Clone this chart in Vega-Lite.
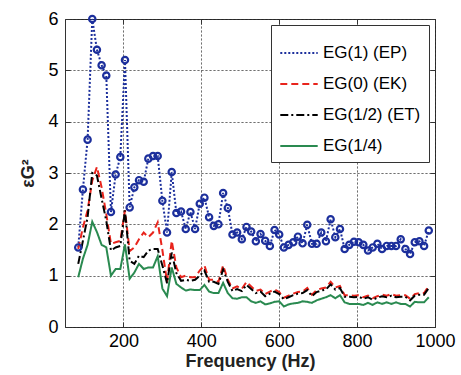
{
  "$schema": "https://vega.github.io/schema/vega-lite/v6.json",
  "autosize": {"type": "none"},
  "width": 370,
  "height": 308,
  "padding": {"left": 65, "top": 19, "right": 26, "bottom": 48},
  "background": "white",
  "config": {
    "view": {"stroke": "#333333", "strokeWidth": 1},
    "font": "Liberation Sans",
    "axis": {
      "labelFont": "Liberation Sans",
      "labelFontSize": 18,
      "labelColor": "#000000",
      "labelFlush": false,
      "titleFont": "Liberation Sans",
      "titleFontSize": 18,
      "titleFontWeight": "bold",
      "titleColor": "#222222",
      "domain": false,
      "tickColor": "#333333",
      "tickSize": -5,
      "gridDash": [1, 3],
      "gridColor": "#222222",
      "gridOpacity": 0.8
    }
  },
  "data": {
    "values": [
      {"f": 84, "p": 1.55, "k": 1.52, "t": 1.23, "q": 0.97},
      {"f": 96, "p": 2.68, "k": 1.94, "t": 1.68, "q": 1.33},
      {"f": 108, "p": 3.65, "k": 2.27, "t": 2.14, "q": 1.6},
      {"f": 120, "p": 6.0, "k": 2.85, "t": 3.0, "q": 2.05},
      {"f": 132, "p": 5.4, "k": 3.12, "t": 2.95, "q": 1.85},
      {"f": 144, "p": 5.1, "k": 2.72, "t": 2.5, "q": 1.6},
      {"f": 156, "p": 4.9, "k": 2.2, "t": 2.07, "q": 1.55},
      {"f": 168, "p": 2.24, "k": 1.62, "t": 1.49, "q": 1.0},
      {"f": 180, "p": 2.97, "k": 1.65, "t": 1.55, "q": 1.13},
      {"f": 192, "p": 3.31, "k": 1.68, "t": 1.58, "q": 1.13},
      {"f": 204, "p": 5.2, "k": 2.27, "t": 2.27, "q": 1.61},
      {"f": 216, "p": 2.33, "k": 1.48, "t": 1.29, "q": 0.94},
      {"f": 228, "p": 2.72, "k": 1.55, "t": 1.23, "q": 1.06},
      {"f": 240, "p": 2.86, "k": 1.71, "t": 1.39, "q": 1.23},
      {"f": 252, "p": 2.83, "k": 1.84, "t": 1.36, "q": 1.13},
      {"f": 264, "p": 3.28, "k": 1.75, "t": 1.49, "q": 1.16},
      {"f": 276, "p": 3.33, "k": 1.84, "t": 1.52, "q": 1.16},
      {"f": 288, "p": 3.33, "k": 2.04, "t": 1.52, "q": 1.38},
      {"f": 300, "p": 2.46, "k": 1.5, "t": 1.2, "q": 0.75},
      {"f": 312, "p": 1.84, "k": 0.88, "t": 0.85, "q": 0.6},
      {"f": 324, "p": 3.02, "k": 1.68, "t": 1.45, "q": 1.16},
      {"f": 336, "p": 2.22, "k": 1.16, "t": 1.05, "q": 0.84},
      {"f": 348, "p": 2.25, "k": 0.97, "t": 0.9, "q": 0.77},
      {"f": 360, "p": 1.91, "k": 1.0, "t": 0.92, "q": 0.71},
      {"f": 372, "p": 2.24, "k": 0.97, "t": 0.9, "q": 0.73},
      {"f": 384, "p": 1.91, "k": 0.97, "t": 0.92, "q": 0.72},
      {"f": 396, "p": 2.4, "k": 1.1, "t": 1.0, "q": 0.72},
      {"f": 408, "p": 2.52, "k": 1.2, "t": 1.1, "q": 0.82},
      {"f": 420, "p": 2.14, "k": 0.92, "t": 0.88, "q": 0.69},
      {"f": 432, "p": 1.97, "k": 0.92, "t": 0.88, "q": 0.66},
      {"f": 444, "p": 2.0, "k": 0.88, "t": 0.84, "q": 0.66},
      {"f": 456, "p": 2.61, "k": 1.2, "t": 1.12, "q": 0.86},
      {"f": 468, "p": 2.32, "k": 0.92, "t": 0.88, "q": 0.66},
      {"f": 480, "p": 1.8, "k": 0.75, "t": 0.7, "q": 0.56},
      {"f": 492, "p": 1.84, "k": 0.79, "t": 0.74, "q": 0.55},
      {"f": 504, "p": 1.71, "k": 0.74, "t": 0.7, "q": 0.58},
      {"f": 516, "p": 1.95, "k": 0.88, "t": 0.82, "q": 0.58},
      {"f": 528, "p": 1.86, "k": 0.79, "t": 0.74, "q": 0.5},
      {"f": 540, "p": 1.67, "k": 0.7, "t": 0.66, "q": 0.47},
      {"f": 552, "p": 1.81, "k": 0.73, "t": 0.69, "q": 0.5},
      {"f": 564, "p": 1.68, "k": 0.64, "t": 0.6, "q": 0.44},
      {"f": 576, "p": 1.58, "k": 0.69, "t": 0.65, "q": 0.46},
      {"f": 588, "p": 1.89, "k": 0.73, "t": 0.69, "q": 0.49},
      {"f": 600, "p": 1.8, "k": 0.68, "t": 0.64, "q": 0.5},
      {"f": 612, "p": 1.55, "k": 0.57, "t": 0.54, "q": 0.4},
      {"f": 624, "p": 1.6, "k": 0.61, "t": 0.58, "q": 0.44},
      {"f": 636, "p": 1.65, "k": 0.65, "t": 0.62, "q": 0.46},
      {"f": 648, "p": 1.76, "k": 0.68, "t": 0.65, "q": 0.47},
      {"f": 660, "p": 1.63, "k": 0.69, "t": 0.66, "q": 0.5},
      {"f": 672, "p": 1.99, "k": 0.76, "t": 0.72, "q": 0.49},
      {"f": 684, "p": 1.62, "k": 0.63, "t": 0.6, "q": 0.47},
      {"f": 696, "p": 1.62, "k": 0.72, "t": 0.68, "q": 0.52},
      {"f": 708, "p": 1.84, "k": 0.75, "t": 0.71, "q": 0.55},
      {"f": 720, "p": 1.67, "k": 0.77, "t": 0.73, "q": 0.58},
      {"f": 732, "p": 2.1, "k": 0.88, "t": 0.83, "q": 0.62},
      {"f": 744, "p": 1.75, "k": 0.77, "t": 0.73, "q": 0.56},
      {"f": 756, "p": 1.91, "k": 0.8, "t": 0.76, "q": 0.62},
      {"f": 768, "p": 1.52, "k": 0.62, "t": 0.59, "q": 0.48},
      {"f": 780, "p": 1.6, "k": 0.62, "t": 0.59, "q": 0.45},
      {"f": 792, "p": 1.66, "k": 0.61, "t": 0.58, "q": 0.45},
      {"f": 804, "p": 1.65, "k": 0.62, "t": 0.59, "q": 0.45},
      {"f": 816, "p": 1.6, "k": 0.58, "t": 0.55, "q": 0.43},
      {"f": 828, "p": 1.49, "k": 0.61, "t": 0.58, "q": 0.47},
      {"f": 840, "p": 1.55, "k": 0.56, "t": 0.53, "q": 0.43},
      {"f": 852, "p": 1.62, "k": 0.6, "t": 0.57, "q": 0.48},
      {"f": 864, "p": 1.52, "k": 0.63, "t": 0.6, "q": 0.45},
      {"f": 876, "p": 1.58, "k": 0.61, "t": 0.58, "q": 0.48},
      {"f": 888, "p": 1.58, "k": 0.64, "t": 0.61, "q": 0.45},
      {"f": 900, "p": 1.58, "k": 0.61, "t": 0.58, "q": 0.48},
      {"f": 912, "p": 1.71, "k": 0.62, "t": 0.59, "q": 0.45},
      {"f": 924, "p": 1.52, "k": 0.62, "t": 0.59, "q": 0.45},
      {"f": 936, "p": 1.42, "k": 0.55, "t": 0.52, "q": 0.4},
      {"f": 948, "p": 1.65, "k": 0.64, "t": 0.61, "q": 0.49},
      {"f": 960, "p": 1.67, "k": 0.66, "t": 0.63, "q": 0.48},
      {"f": 972, "p": 1.58, "k": 0.66, "t": 0.63, "q": 0.48},
      {"f": 984, "p": 1.88, "k": 0.8, "t": 0.76, "q": 0.58}
    ]
  },
  "resolve": {"axis": {"x": "independent", "y": "independent"}},
  "layer": [
    {
      "transform": [{"fold": ["p", "k", "t", "q"], "as": ["key", "v"]}],
      "mark": {"type": "line", "strokeWidth": 2},
      "encoding": {
        "x": {
          "field": "f",
          "type": "quantitative",
          "scale": {"domain": [50, 1000], "nice": false, "zero": false},
          "axis": {"values": [200, 400, 600, 800, 1000], "format": "d", "title": "Frequency (Hz)", "labelPadding": 10, "titlePadding": 2}
        },
        "y": {
          "field": "v",
          "type": "quantitative",
          "scale": {"domain": [0, 6], "nice": false},
          "axis": {"values": [0, 1, 2, 3, 4, 5, 6], "title": "εG²", "labelPadding": 12, "titlePadding": 10}
        },
        "color": {
          "field": "key",
          "type": "nominal",
          "scale": {"domain": ["p", "k", "t", "q"], "range": ["#1c2f9c", "#e8241c", "#000000", "#2a8a50"]},
          "legend": {
            "title": null,
            "orient": "top-right",
            "offset": 6,
            "labelExpr": "datum.label == 'p' ? 'EG(1) (EP)' : datum.label == 'k' ? 'EG(0) (EK)' : datum.label == 't' ? 'EG(1/2) (ET)' : 'EG(1/4)'",
            "labelFont": "Liberation Sans",
            "labelFontSize": 17,
            "labelColor": "#000000",
            "labelOffset": 4,
            "symbolType": "stroke",
            "symbolSize": 1400,
            "symbolStrokeWidth": 2,
            "rowPadding": 3,
            "padding": 8,
            "strokeColor": "#333333",
            "fillColor": "white"
          }
        },
        "strokeDash": {
          "field": "key",
          "type": "nominal",
          "scale": {"domain": ["p", "k", "t", "q"], "range": [[2, 2], [7, 4], [8, 3, 2, 3], [1, 0]]},
          "legend": null
        }
      }
    },
    {
      "mark": {"type": "point", "shape": "circle", "filled": false, "size": 40, "strokeWidth": 2.2, "color": "#1c2f9c", "opacity": 1},
      "encoding": {
        "x": {"field": "f", "type": "quantitative", "axis": {"orient": "top", "values": [200, 400, 600, 800, 1000], "labels": false, "title": null, "grid": true}},
        "y": {"field": "p", "type": "quantitative", "axis": {"orient": "right", "values": [0, 1, 2, 3, 4, 5, 6], "labels": false, "title": null, "grid": true}}
      }
    }
  ]
}
